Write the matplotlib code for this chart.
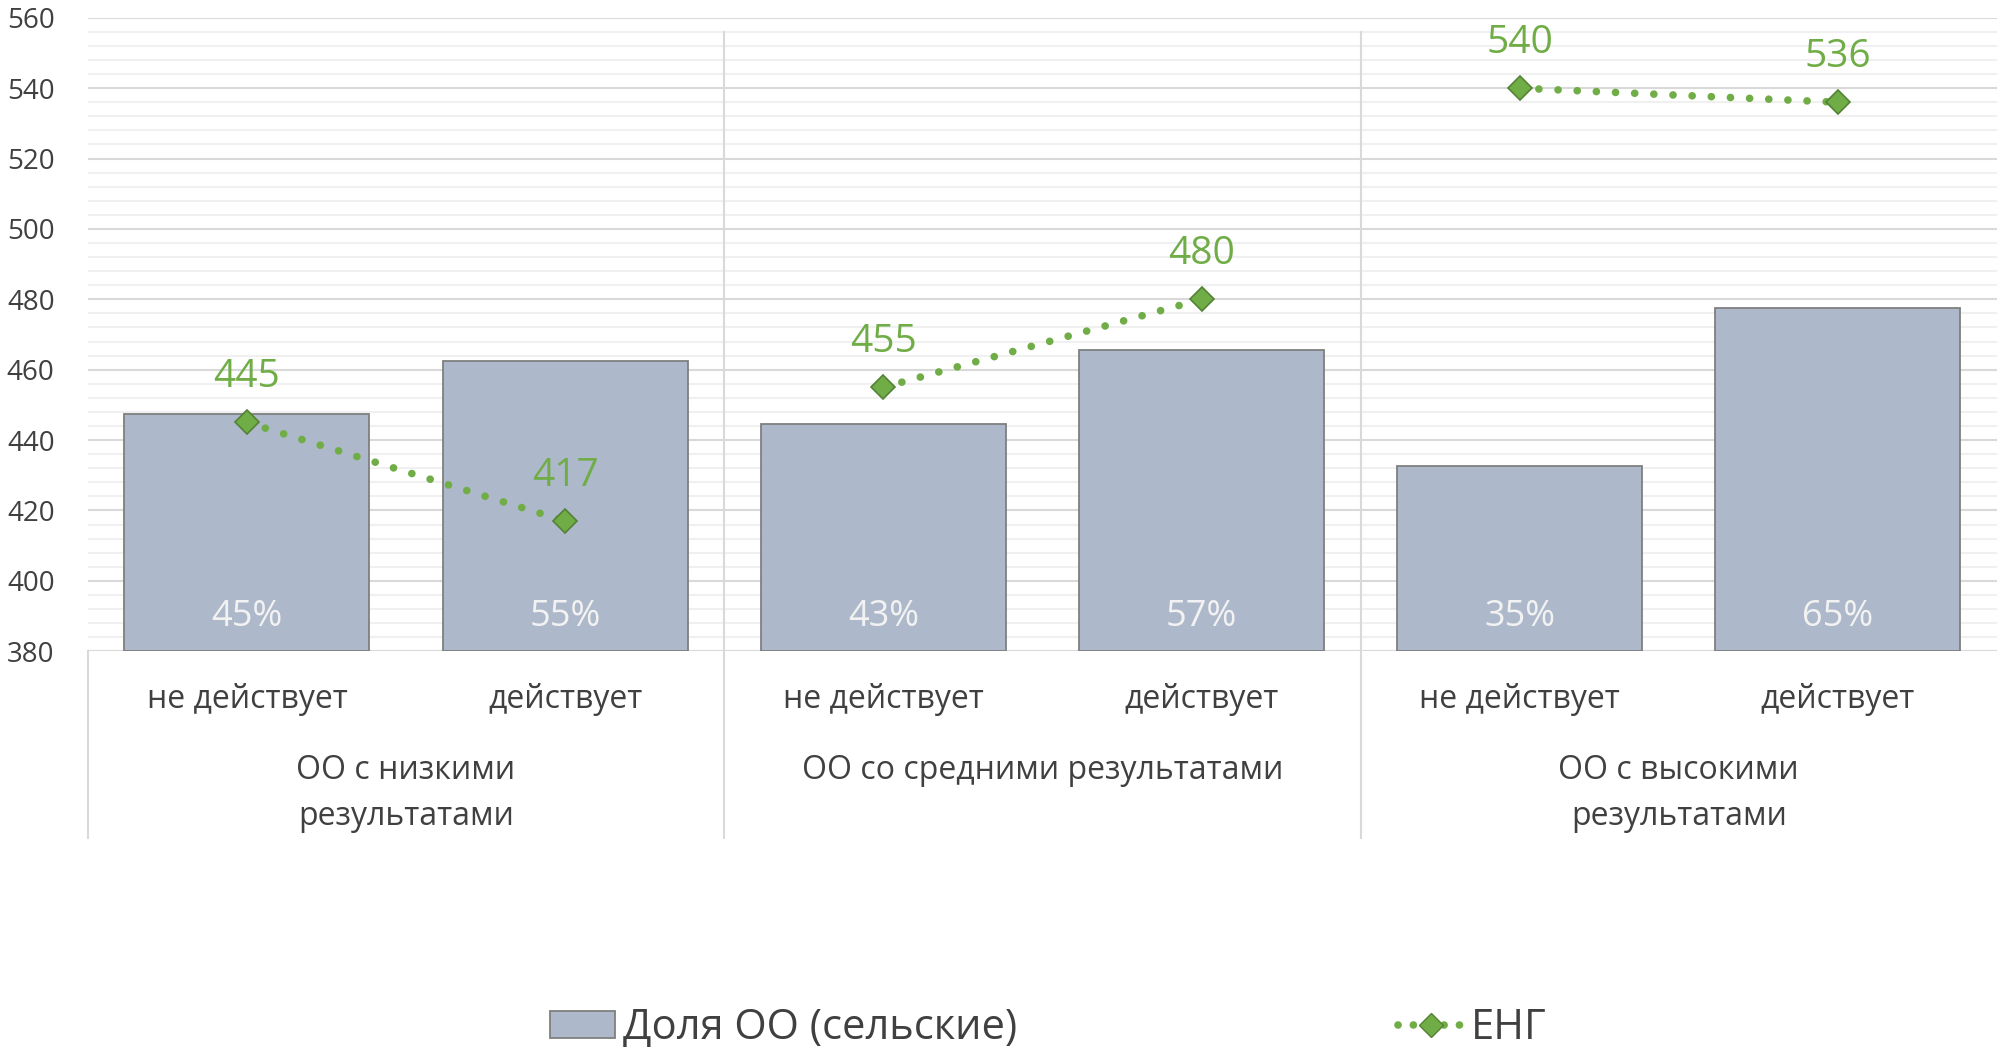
import matplotlib
matplotlib.use("Agg")
import matplotlib.pyplot as plt
from matplotlib.patches import Patch
from matplotlib.lines import Line2D
import matplotlib.transforms as mtransforms

plt.rcParams['font.family'] = ['Open Sans', 'DejaVu Sans']

groups = ['ОО с низкими\nрезультатами', 'ОО со средними результатами', 'ОО с высокими\nрезультатами']
subcats = ['не действует', 'действует'] * 3
share = [45, 55, 43, 57, 35, 65]           # доля ОО, %
eng = [445, 417, 455, 480, 540, 536]       # ЕНГ

bar_color = '#ADB9CA'
bar_edge = '#7F7F7F'
green = '#70AD47'
green_dark = '#548235'
text_color = '#404040'

fig = plt.figure(figsize=(19.97, 10.47), dpi=100)
ax = fig.add_axes([0.044, 0.378, 0.956, 0.605])
ax_bar = ax.twinx()
ax_line = ax.twinx()

x = list(range(len(share)))

# primary axis: ticks and grid
ax.set_ylim(380, 560)
ax.set_xlim(-0.5, 5.5)
ax.set_yticks(range(380, 561, 20))
ax.set_yticks(range(380, 561, 4), minor=True)
ax.grid(which='major', axis='y', color='#D9D9D9', lw=1.5)
ax.grid(which='minor', axis='y', color='#F0F0F0', lw=1.5)
ax.tick_params(axis='y', which='both', length=0, labelsize=20, colors=text_color, pad=24)
ax.set_xticks([])
for s in ax.spines.values():
    s.set_visible(False)
ax.axhline(380, color='#D9D9D9', lw=1.5, zorder=3)

# bars on hidden percentage axis
ax_bar.set_ylim(0, 120)
ax_bar.bar(x, share, width=0.77, color=bar_color, edgecolor=bar_edge, linewidth=1.3)
ax_bar.set_xlim(-0.5, 5.5)
ax_bar.axis('off')
for xi, v in zip(x, share):
    ax_bar.text(xi, 0.054, f'{v}%', transform=ax_bar.get_xaxis_transform(),
                ha='center', va='center', fontsize=26, color='#F2F2F2')

# ЕНГ line, separate segment per group
ax_line.set_ylim(380, 560)
ax_line.set_xlim(-0.5, 5.5)
ax_line.axis('off')
for g in range(3):
    xs = x[2 * g:2 * g + 2]
    ys = eng[2 * g:2 * g + 2]
    ax_line.plot(xs, ys, color=green, lw=5.5, linestyle=(0, (0.01, 2.5)),
                 dash_capstyle='round', zorder=2)
    ax_line.plot(xs, ys, linestyle='none', marker='D', markersize=12,
                 markerfacecolor=green, markeredgecolor=green_dark, markeredgewidth=1.2, zorder=3)
for xi, v in zip(x, eng):
    ax_line.annotate(str(v), (xi, v), xytext=(0, 45), textcoords='offset pixels',
                     ha='center', va='center', fontsize=28, color=green)

# category axis below the plot
trans = mtransforms.blended_transform_factory(ax.transData, ax.transAxes)
for xi, lab in zip(x, subcats):
    ax.text(xi, -0.076, lab, transform=trans, ha='center', va='center',
            fontsize=23, color=text_color)
for g, lab in enumerate(groups):
    for k, line in enumerate(lab.split('\n')):
        ax.text(2 * g + 0.5, -0.188 - 0.073 * k, line, transform=trans, ha='center',
                va='center', fontsize=23, color=text_color)
ax.plot([-0.5, -0.5], [0, -0.295], transform=trans, color='#D9D9D9', lw=1.5, clip_on=False)
for sep in [1.5, 3.5]:
    ax.plot([sep, sep], [0.978, -0.295], transform=trans, color='#D9D9D9', lw=1.5, clip_on=False)

handles = [
    Patch(facecolor=bar_color, edgecolor=bar_edge, linewidth=1.3, label='Доля ОО (сельские)'),
    Line2D([], [], color=green, lw=5.5, linestyle=(0, (0.01, 2.0)), dash_capstyle='round',
           marker='D', markersize=12, markerfacecolor=green, markeredgecolor=green_dark,
           label='ЕНГ'),
]
fig.legend(handles=handles, loc='center left', bbox_to_anchor=(0.265, 0.018), ncol=2,
           frameon=False, fontsize=30, handlelength=1.55, handleheight=0.65,
           handletextpad=0.2, columnspacing=9.15, borderpad=0, labelcolor=text_color)

fig.savefig('out.png', dpi=100)
